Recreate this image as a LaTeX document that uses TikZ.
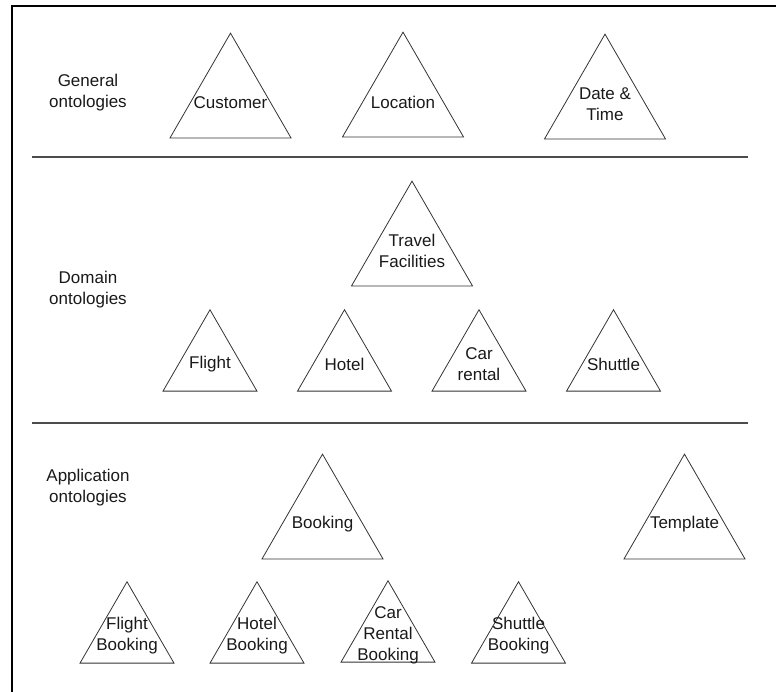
\documentclass[tikz,border=0pt]{standalone}
\usepackage{fontspec}
\setmainfont{Liberation Sans}
\usetikzlibrary{shapes.geometric}

\begin{document}
\begin{tikzpicture}[x=1pt,y=-1pt,
    onto/.style={draw=black!80,line width=0.8pt,regular polygon,regular polygon sides=3,inner sep=0pt},
    big/.style={onto,minimum size=139.7pt},
    small/.style={onto,minimum size=108.5pt},
    txt/.style={align=center,inner sep=0pt,font=\fontsize{17pt}{21pt}\selectfont,text=black!90},
    sep/.style={draw=black!70,line width=1.3pt}]
                \useasboundingbox (0,0) rectangle (776,692);
                \draw[line width=2pt] (11.5,692) -- (11.5,5.7) -- (776,5.7);
                \draw[sep] (32,157) -- (748,157);
                \draw[sep] (32,423) -- (748,423);

                \node[txt] (general) at (88,93) {General\\ontologies};
                \node[txt] (domain) at (88,290) {Domain\\ontologies};
                \node[txt] (application) at (88,488) {Application\\ontologies};

                \node[big] (cust) at (230.5,103) {};
                \node[big] (loc) at (403,102) {};
                \node[big] (datetime) at (605,104) {};
                \node[txt] (custtxt) at (cust.center) {Customer};
                \node[txt] (loctxt) at (loc.center) {Location};
                \node[txt] (datetimetxt) at (datetime.center) {Date \&\\Time};

                \node[big] (travel) at (412,251) {};
                \node[txt] (traveltxt) at (travel.center) {Travel\\Facilities};
                \node[small] (flight) at (210,364) {};
                \node[small] (hotel) at (344.5,364) {};
                \node[small] (car) at (479,364) {};
                \node[small] (shuttle) at (613.5,364) {};
                \node[txt] (flighttxt) at (flight.center) {Flight};
                \node[txt] (hoteltxt) at (hotel.center) {Hotel};
                \node[txt] (cartxt) at (car.center) {Car\\rental};
                \node[txt] (shuttletxt) at (shuttle.center) {Shuttle};

                \node[big] (booking) at (322.5,524) {};
                \node[big] (template) at (684.5,524) {};
                \node[txt] (bookingtxt) at (booking.center) {Booking};
                \node[txt] (templatetxt) at (template.center) {Template};
                \node[small] (flightb) at (127,636) {};
                \node[small] (hotelb) at (257,636) {};
                \node[small] (carb) at (388,635) {};
                \node[small] (shuttleb) at (518.5,636) {};
                \node[txt] (flightbtxt) at (flightb.center) {Flight\\Booking};
                \node[txt] (hotelbtxt) at (hotelb.center) {Hotel\\Booking};
                \node[txt] (carbtxt) at (carb.center) {Car\\Rental\\Booking};
                \node[txt] (shuttlebtxt) at (shuttleb.center) {Shuttle\\Booking};
\end{tikzpicture}
\end{document}
